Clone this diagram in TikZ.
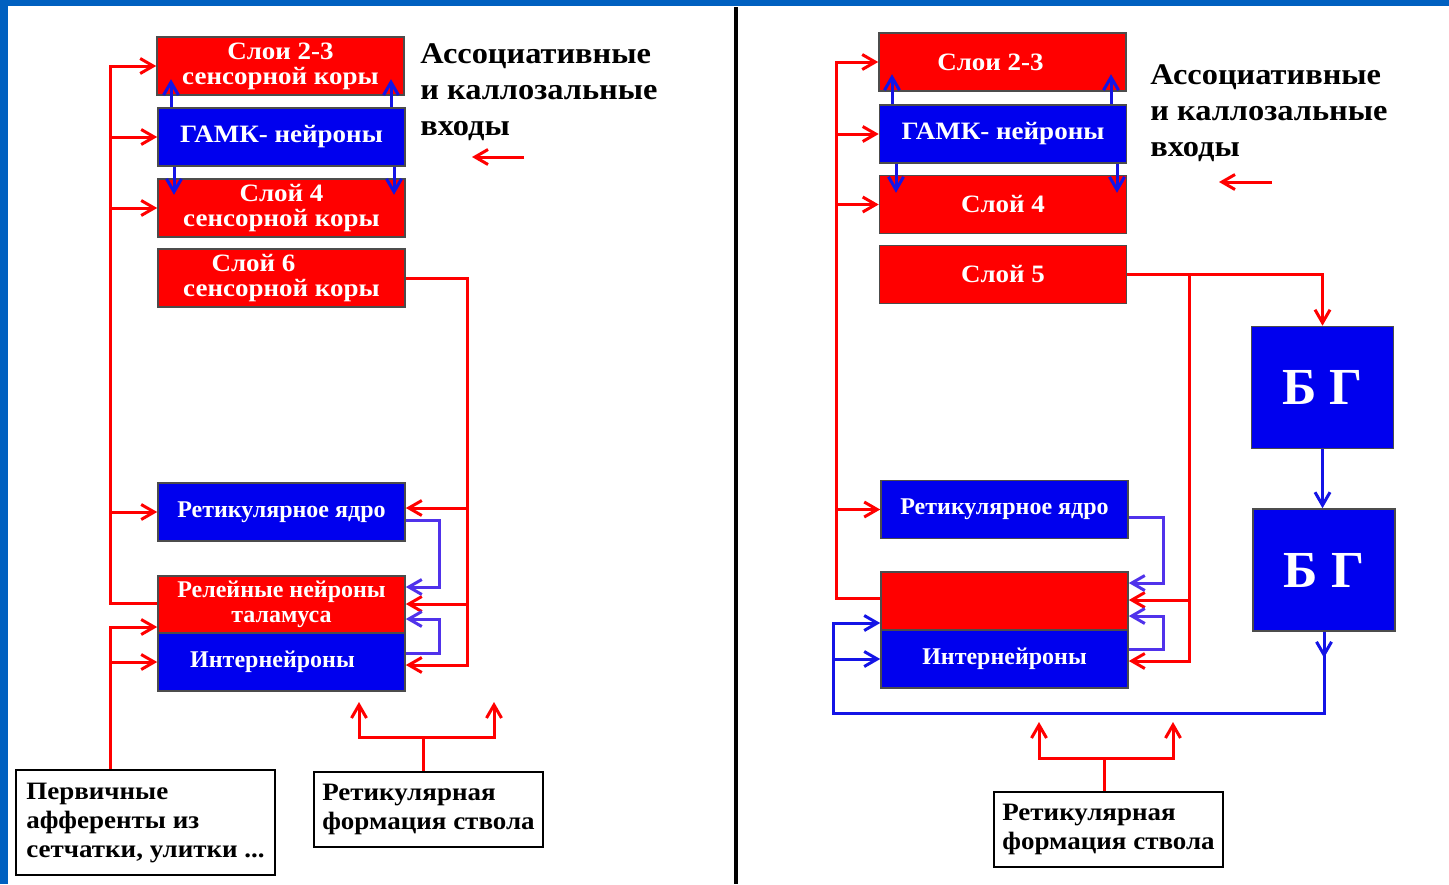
\documentclass[tikz,border=0pt]{standalone}
\usepackage{fontspec}
\setmainfont{Liberation Serif}
\newfontfamily\widefont{Liberation Serif}[FakeStretch=1.08]
\usepackage{tikz}
\usetikzlibrary{arrows.meta}
\definecolor{slideblue}{RGB}{0,96,192}
\definecolor{boxblue}{RGB}{0,0,238}
\definecolor{lineblue}{RGB}{20,20,230}
\definecolor{loopblue}{RGB}{80,50,235}

\begin{document}
\begin{tikzpicture}[x=0.5pt, y=-0.5pt,
  box/.style={draw=black!70, line width=0.8pt, text=white, inner sep=0pt, align=center,
    minimum width=123.5pt, minimum height=29pt, font=\widefont\bfseries\fontsize{12.5}{12.5}\selectfont},
  redbox/.style={box, fill=red},
  bluebox/.style={box, fill=boxblue},
  smalltext/.style={font=\rmfamily\bfseries\fontsize{12}{12.5}\selectfont},
  bgbox/.style={bluebox, minimum width=71pt, minimum height=61pt, font=\bfseries\fontsize{26}{26}\selectfont},
  srcbox/.style={draw=black, line width=1.3pt, fill=white, inner sep=0pt, align=left,
    font=\widefont\bfseries\fontsize{12.5}{14.5}\selectfont},
  assoc/.style={anchor=north west, inner sep=0pt, align=left, font=\widefont\bfseries\fontsize{15}{18}\selectfont},
  redline/.style={draw=red, line width=1.5pt},
  redarr/.style={redline, -{Straight Barb[length=6.5pt,width=7.5pt]}},
  bluearr/.style={draw=lineblue, line width=1.5pt, -{Straight Barb[length=6.5pt,width=7.5pt]}},
  looparr/.style={draw=loopblue, line width=1.5pt, -{Straight Barb[length=6.5pt,width=7.5pt]}}]

\useasboundingbox (0,0) rectangle (1449,884);

% slide frame
\fill[slideblue] (0,0) rectangle (1449,884);
\fill[white] (8,6) rectangle (1449,884);
\draw[line width=2pt] (736,7) -- (736,884);

% ---------- left: sensory cortex ----------
\node[redbox] (s23L) at (280.5,66) {Слои 2-3\\сенсорной коры};
\node[bluebox] (gabaL) at (281.5,137) {ГАМК- нейроны};
\node[redbox] (s4L) at (281.5,208) {Слой 4\\сенсорной коры};
\node[redbox] (s6L) at (281.5,278) {Слой 6\hspace*{28pt}\\сенсорной коры};
\node[bluebox, smalltext] (retL) at (281.5,512) {Ретикулярное ядро};
\node[redbox, smalltext, minimum height=28.5pt] (relL) at (281.5,604.5) {Релейные нейроны\\таламуса};
\node[bluebox, smalltext] (intL) at (281.5,662) {Интернейроны\hspace*{9pt}};
\node[srcbox, minimum width=129.5pt, minimum height=52.5pt] (affL) at (145.5,822.5) {Первичные\\афференты из\\сетчатки, улитки ...};
\node[srcbox, minimum width=114.5pt, minimum height=37.5pt] (rfL) at (428.5,809.5) {Ретикулярная\\формация ствола};
\node[assoc] (assocL) at (420,43) {Ассоциативные\\и каллозальные\\входы};

\coordinate (busL) at (110,0);
\coordinate (busR) at (467,0);
\coordinate (loopL) at (439,0);
\coordinate (inL) at (524,157);
\coordinate (forkL) at (423,737);

% feedback from relay neurons
\draw[redarr] (relL.west |- 0,603) -| (busL |- s23L.west) -- (s23L.west);
\foreach \n in {gabaL, s4L, retL}
  \draw[redarr] (busL |- \n.west) -- (\n.west);

% primary afferents
\draw[redarr] (busL |- affL.north) |- (relL.west |- 0,627);
\draw[redarr] (busL |- intL.west) -- (intL.west);

% layer 6 to thalamus
\draw[redarr] (s6L.east) -| (busR |- 0,665) -- (intL.east |- 0,665);
\draw[redarr] (busR |- 0,508) -- (retL.east |- 0,508);
\draw[redarr] (busR |- 0,604) -- (relL.east |- 0,604);

% inhibitory loops
\draw[looparr] (retL.east |- 0,520) -| (loopL |- 0,587) -- (relL.east |- 0,587);
\draw[looparr] (intL.east |- 0,653) -| (loopL |- 0,619) -- (relL.east |- 0,619);

% GABA neurons
\draw[bluearr] (gabaL.north -| 171,0) -- ++(0,-28);
\draw[bluearr] (gabaL.north -| 391,0) -- ++(0,-28);
\draw[bluearr] (gabaL.south -| 174,0) -- ++(0,28);
\draw[bluearr] (gabaL.south -| 394,0) -- ++(0,28);

\draw[redarr] (inL) -- ++(-52,0);

% brainstem
\draw[redline] (rfL.north -| forkL) -- (forkL);
\draw[redarr] (forkL) -| (359,702);
\draw[redarr] (forkL) -| (494,702);

% ---------- right: motor loop ----------
\node[redbox] (s23R) at (1002.5,62) {Слои 2-3\hspace*{12pt}};
\node[bluebox] (gabaR) at (1003,134) {ГАМК- нейроны};
\node[redbox] (s4R) at (1003,204.5) {Слой 4};
\node[redbox] (s5R) at (1003,274.5) {Слой 5};
\node[bluebox, smalltext] (retR) at (1004.5,509.5) {Ретикулярное ядро};
\node[redbox] (relR) at (1004.5,601) {};
\node[bluebox, smalltext] (intR) at (1004.5,659) {Интернейроны};
\node[bgbox] (bg1) at (1322.5,387.5) {Б Г};
\node[bgbox] (bg2) at (1324,570) {Б Г};
\node[srcbox, minimum width=114.5pt, minimum height=37.5pt] (rfR) at (1108.5,829.5) {Ретикулярная\\формация ствола};
\node[assoc] (assocR) at (1150,64) {Ассоциативные\\и каллозальные\\входы};

\coordinate (busRL) at (836,0);
\coordinate (busS5) at (1189,0);
\coordinate (loopR) at (1163,0);
\coordinate (busBG) at (833,0);
\coordinate (inR) at (1272,182);
\coordinate (forkR) at (1104,758);

\draw[redarr] (relR.west |- 0,598) -| (busRL |- s23R.west) -- (s23R.west);
\foreach \n in {gabaR, s4R, retR}
  \draw[redarr] (busRL |- \n.west) -- (\n.west);

% layer 5 to basal ganglia and thalamus
\draw[redarr] (s5R.east) -| (bg1.north);
\draw[redarr] (s5R.east -| busS5) |- (intR.east |- 0,661);
\draw[redarr] (busS5 |- 0,600) -- (relR.east |- 0,600);

\draw[looparr] (retR.east |- 0,517) -| (loopR |- 0,583) -- (relR.east |- 0,583);
\draw[looparr] (intR.east |- 0,649) -| (loopR |- 0,616) -- (relR.east |- 0,616);

\draw[bluearr] (gabaR.north -| 892,0) -- ++(0,-30);
\draw[bluearr] (gabaR.north -| 1111,0) -- ++(0,-30);
\draw[bluearr] (gabaR.south -| 896,0) -- ++(0,29);
\draw[bluearr] (gabaR.south -| 1117,0) -- ++(0,29);

% basal ganglia back to thalamus
\draw[bluearr] (bg1.south) -- (bg1.south |- bg2.north);
\draw[bluearr] (bg2.south) -- ++(0,26);
\draw[bluearr] (bg2.south) |- (busBG |- 0,713) |- (relR.west |- 0,623);
\draw[bluearr] (busBG |- intR.west) -- (intR.west);

\draw[redarr] (inR) -- ++(-53,0);

\draw[redline] (rfR.north -| forkR) -- (forkR);
\draw[redarr] (forkR) -| (1039,722);
\draw[redarr] (forkR) -| (1173,722);

\end{tikzpicture}
\end{document}
